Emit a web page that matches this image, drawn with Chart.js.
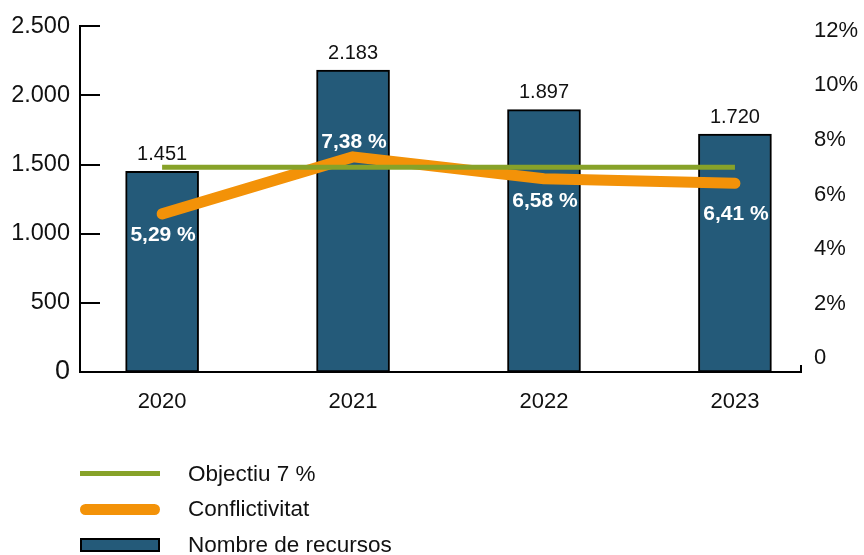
<!DOCTYPE html>
<html>
<head>
<meta charset="utf-8">
<script src="https://cdn.jsdelivr.net/npm/chart.js@4/dist/chart.umd.min.js"></script>
<style>
  html, body { margin: 0; padding: 0; background: #fff; }
  #wrap { position: relative; width: 864px; height: 555px; }
  #legend {
    position: absolute; left: 80px; top: 456px;
    font-family: 'Liberation Sans', Arial, sans-serif; font-size: 22.5px; color: #111;
  }
  .legend-item { display: flex; align-items: center; height: 35.5px; }
  .legend-swatch { width: 80px; margin-right: 28px; box-sizing: border-box; }
</style>
</head>
<body>
<div id="wrap">
  <canvas id="chart" width="864" height="555"></canvas>
  <div id="legend"></div>
</div>
<script>
// dades
const years = ['2020', '2021', '2022', '2023'];
const recursos = [1451, 2183, 1897, 1720];
const conflictivitat = [5.29, 7.38, 6.58, 6.41];
const objectiu = [7, 7, 7, 7];
const leftTicks = [0, 500, 1000, 1500, 2000, 2500];
const rightTicks = [0, 2, 4, 6, 8, 10, 12];

// colors
const colBar = '#245a79';
const colOrange = '#f39208';
const colGreen = '#87a229';
const font = "'Liberation Sans', Arial, sans-serif";

function fmtMil(v) {
  return String(v).replace(/\B(?=(\d{3})+(?!\d))/g, '.');
}
function fmtPct(v) {
  return v.toFixed(2).replace('.', ',') + ' %';
}

// legend html
const legendItems = [
  { label: 'Objectiu 7 %', style: `height:5px;background:${colGreen};` },
  { label: 'Conflictivitat', style: `height:11px;border-radius:6px;background:${colOrange};` },
  { label: 'Nombre de recursos', style: `height:14px;background:${colBar};border:2px solid #000;` }
];
document.getElementById('legend').innerHTML = legendItems.map(it => `
  <div class="legend-item">
    <div class="legend-swatch" style="${it.style}"></div>
    <div>${it.label}</div>
  </div>`).join('');

// etiquetes i marques d'eix
const labelsPlugin = {
  id: 'labelsPlugin',
  afterDraw(chart) {
    const ctx = chart.ctx;
    const area = chart.chartArea;
    const yL = chart.scales.y;
    ctx.save();
    // marques interiors eix esquerre
    ctx.strokeStyle = '#000';
    ctx.lineWidth = 2;
    leftTicks.forEach(v => {
      const py = Math.round(yL.getPixelForValue(v));
      ctx.beginPath();
      ctx.moveTo(area.left, py);
      ctx.lineTo(area.left + 20, py);
      ctx.stroke();
    });
    // petita marca final eix X
    ctx.beginPath();
    ctx.moveTo(area.right, area.bottom + 1);
    ctx.lineTo(area.right, area.bottom - 7);
    ctx.stroke();

    // valors de barres
    const barMeta = chart.getDatasetMeta(2);
    ctx.fillStyle = '#111';
    ctx.font = '20px ' + font;
    ctx.textAlign = 'center';
    ctx.textBaseline = 'bottom';
    barMeta.data.forEach((el, i) => {
      ctx.fillText(fmtMil(recursos[i]), el.x, el.y - 7);
    });

    // percentatges
    const lineMeta = chart.getDatasetMeta(1);
    const offs = [21, -15, 23, 31];
    ctx.fillStyle = '#fff';
    ctx.font = 'bold 21px ' + font;
    ctx.textBaseline = 'middle';
    lineMeta.data.forEach((el, i) => {
      ctx.fillText(fmtPct(conflictivitat[i]), el.x + 1, el.y + offs[i]);
    });
    ctx.restore();
  }
};

const ctx = document.getElementById('chart').getContext('2d');
new Chart(ctx, {
  type: 'bar',
  data: {
    datasets: [
      {
        type: 'line',
        label: 'Objectiu 7 %',
        data: objectiu.map((v, i) => ({ x: i, y: v })),
        yAxisID: 'y1',
        borderColor: colGreen,
        borderWidth: 5,
        pointRadius: 0,
        order: 0
      },
      {
        type: 'line',
        label: 'Conflictivitat',
        data: conflictivitat.map((v, i) => ({ x: i, y: v })),
        yAxisID: 'y1',
        borderColor: colOrange,
        borderWidth: 11,
        borderCapStyle: 'round',
        borderJoinStyle: 'round',
        pointRadius: 0,
        order: 1
      },
      {
        label: 'Nombre de recursos',
        data: recursos.map((v, i) => ({ x: i, y: v })),
        yAxisID: 'y',
        backgroundColor: colBar,
        borderColor: '#000',
        borderWidth: 2,
        borderSkipped: false,
        barThickness: 73,
        order: 2
      }
    ]
  },
  options: {
    responsive: false,
    animation: false,
    layout: { padding: { top: 22, left: 0, right: 0, bottom: 0 } },
    plugins: {
      legend: { display: false },
      tooltip: { enabled: false }
    },
    scales: {
      x: {
        type: 'linear',
        offset: false,
        min: -0.43,
        max: 3.346,
        afterBuildTicks: s => { s.ticks = years.map((y, i) => ({ value: i })); },
        afterFit: s => { s.height = 183; },
        ticks: {
          callback: v => years[v],
          color: '#111',
          font: { family: font, size: 22 },
          padding: 17,
          maxRotation: 0
        },
        grid: { display: false, drawTicks: false, offset: false },
        border: { display: true, color: '#000', width: 2 }
      },
      y: {
        position: 'left',
        min: 0,
        max: 2500,
        afterBuildTicks: s => { s.ticks = leftTicks.map(v => ({ value: v })); },
        afterFit: s => { s.width = 80; },
        ticks: {
          callback: v => fmtMil(v),
          color: '#111',
          font: c => ({ family: font, size: c.tick && c.tick.value === 0 ? 27 : 23.5 }),
          padding: 10
        },
        grid: { display: false, drawTicks: false },
        border: { display: true, color: '#000', width: 2 }
      },
      y1: {
        position: 'right',
        min: -0.507,
        max: 12.17,
        afterBuildTicks: s => { s.ticks = rightTicks.map(v => ({ value: v })); },
        afterFit: s => { s.width = 63; },
        ticks: {
          callback: v => v === 0 ? '0' : v + '%',
          color: '#111',
          font: { family: font, size: 22 },
          padding: 13
        },
        grid: { display: false, drawTicks: false },
        border: { display: false }
      }
    }
  },
  plugins: [labelsPlugin]
});
</script>
</body>
</html>
